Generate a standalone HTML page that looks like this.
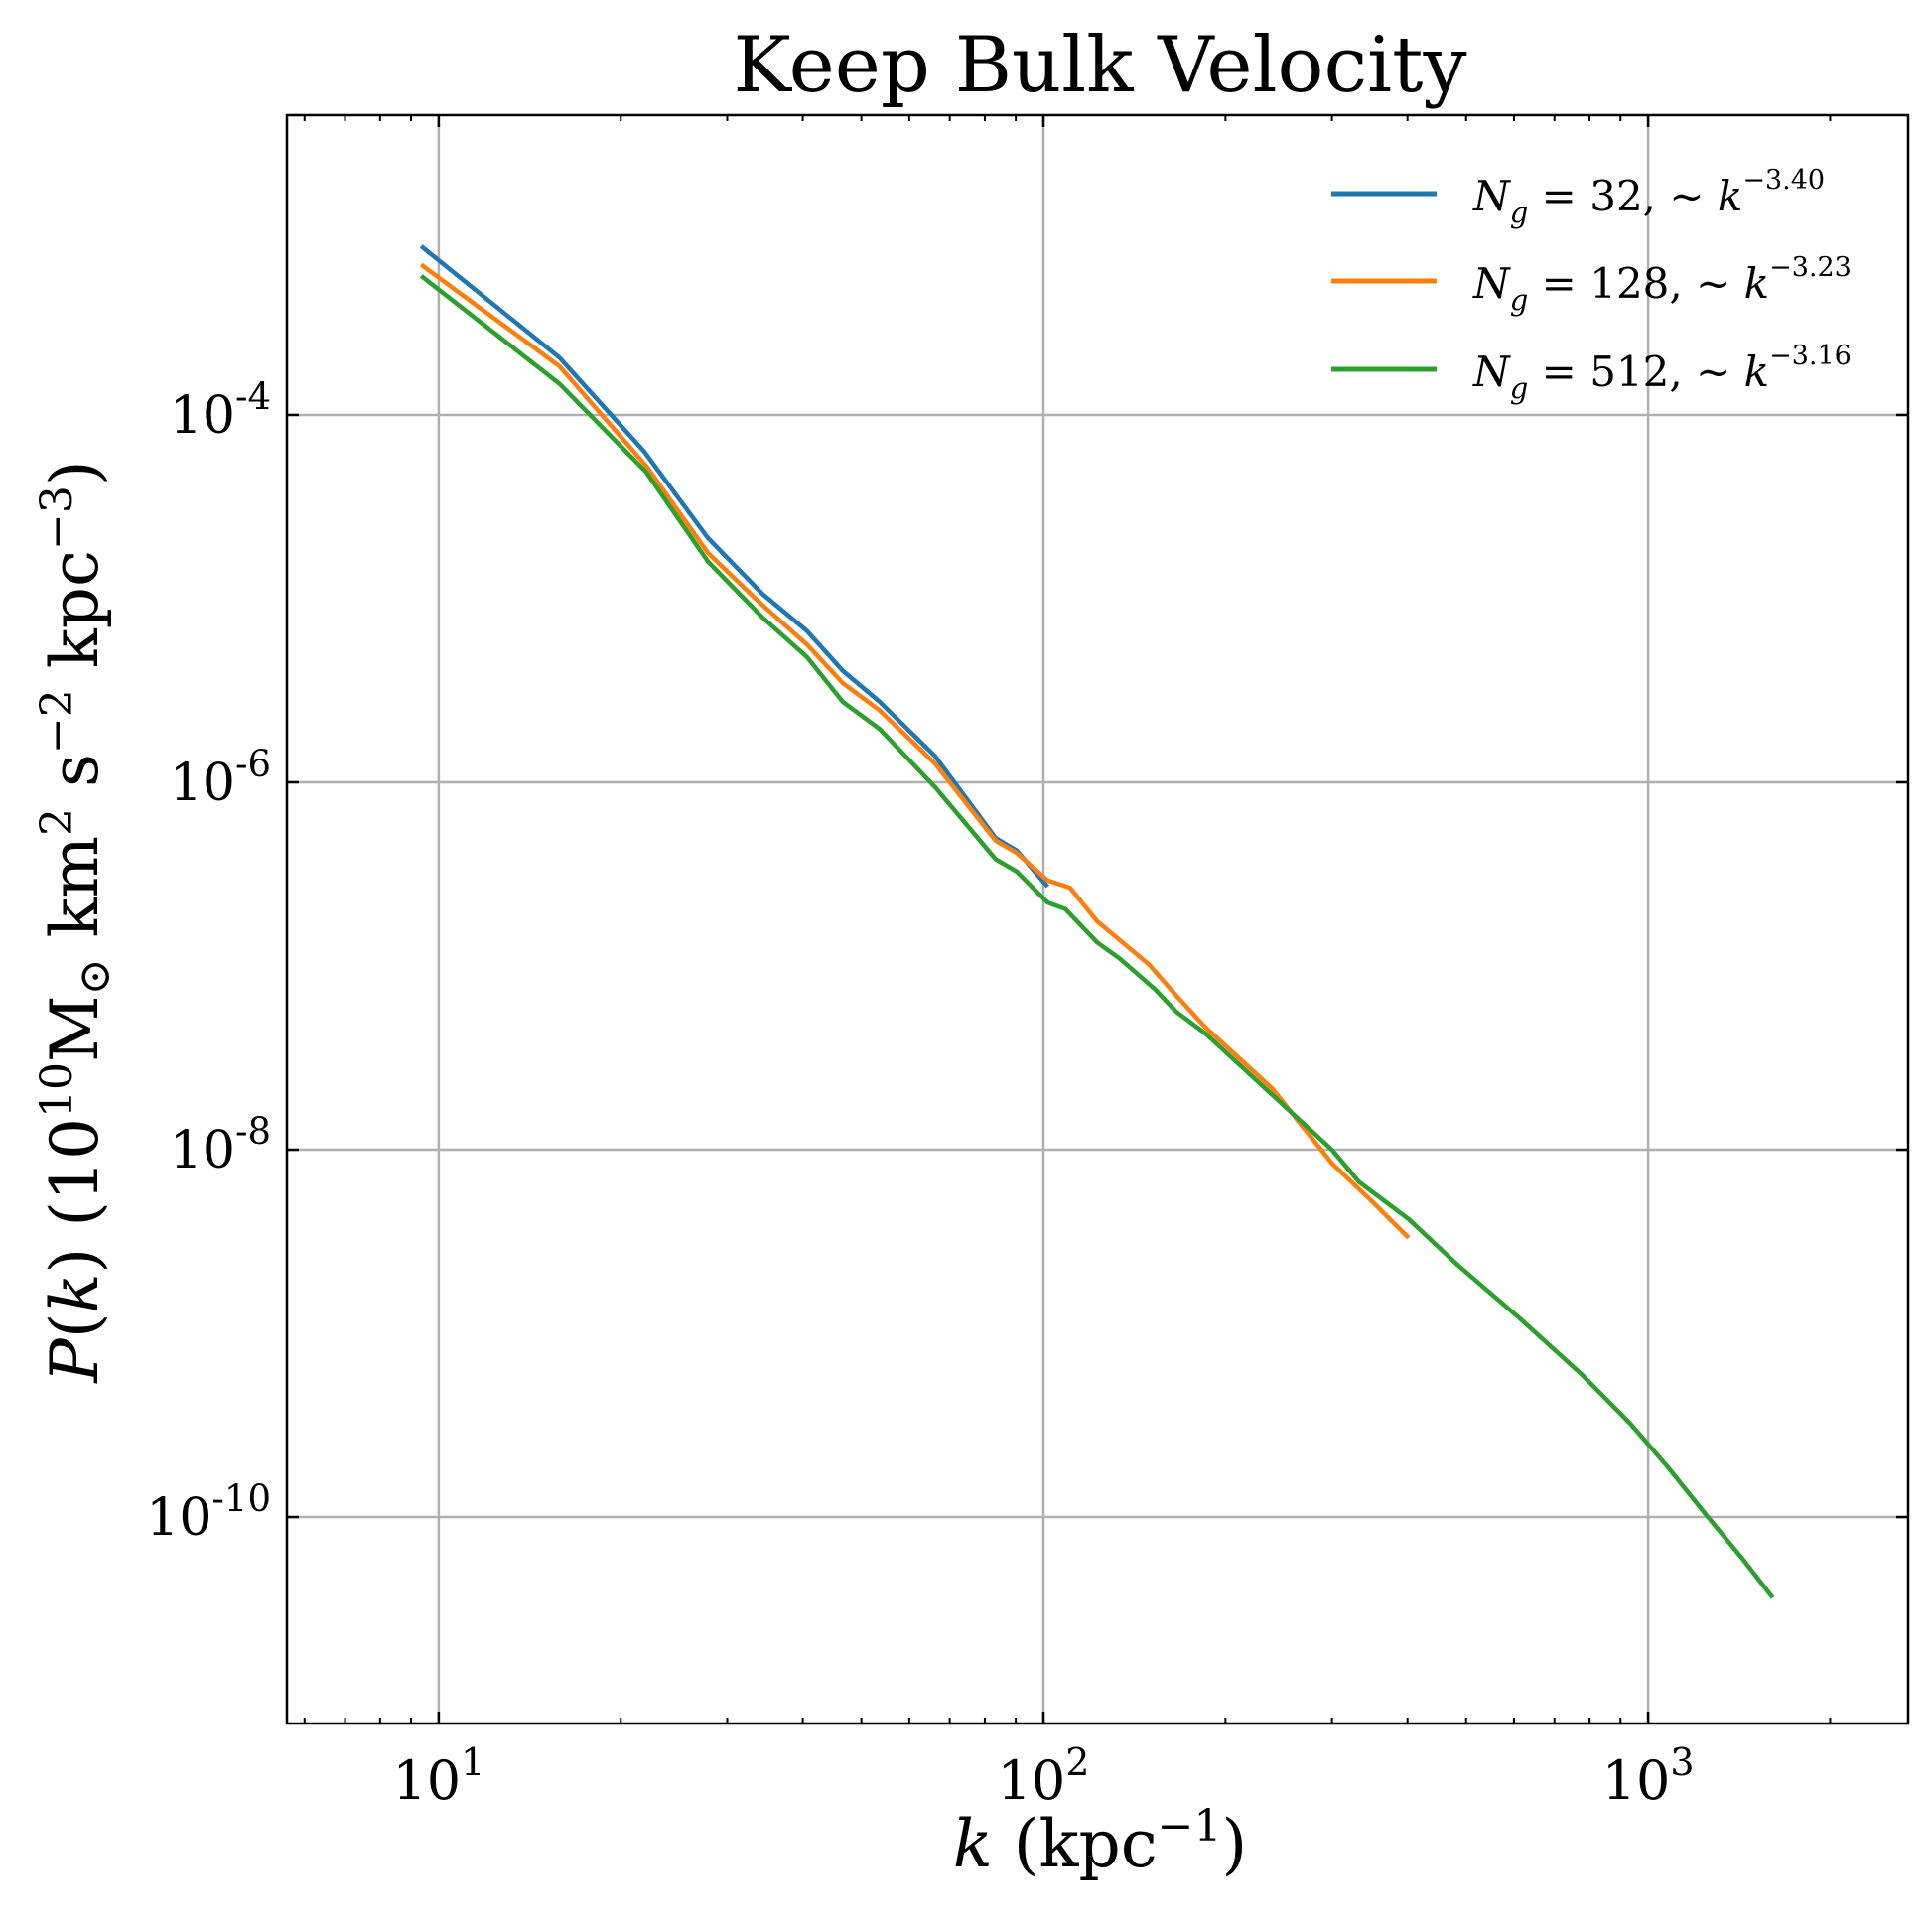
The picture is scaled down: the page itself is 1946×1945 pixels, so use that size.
<!DOCTYPE html>
<html><head><meta charset="utf-8"><style>
body{margin:0;background:#fff}
svg text{font-family:"DejaVu Serif","Liberation Serif",serif;fill:#000}
</style></head><body>
<svg id="chart" width="1946" height="1940" viewBox="0 0 1946 1940" xmlns="http://www.w3.org/2000/svg">
<text x="1108" y="92" font-size="78" text-anchor="middle">Keep Bulk Velocity</text>
<g id="grid"></g>
<g id="series"></g>
<g id="ticks"></g>
<rect x="289" y="116" width="1633" height="1620" fill="none" stroke="#000" stroke-width="2.5"/>
<g font-style="italic">
  <line x1="1341" y1="195" x2="1447" y2="195" stroke="#1f77b4" stroke-width="5"/>
  <text x="1484" y="212" font-size="42">N<tspan font-size="29" dy="12">g</tspan><tspan dy="-12" font-style="normal"> = 32, ∼ </tspan>k<tspan font-size="27" dy="-22" font-style="normal">−3.40</tspan></text>
  <line x1="1341" y1="283" x2="1447" y2="283" stroke="#ff7f0e" stroke-width="5"/>
  <text x="1484" y="300" font-size="42">N<tspan font-size="29" dy="12">g</tspan><tspan dy="-12" font-style="normal"> = 128, ∼ </tspan>k<tspan font-size="27" dy="-22" font-style="normal">−3.23</tspan></text>
  <line x1="1341" y1="372" x2="1447" y2="372" stroke="#2ca02c" stroke-width="5"/>
  <text x="1484" y="389" font-size="42">N<tspan font-size="29" dy="12">g</tspan><tspan dy="-12" font-style="normal"> = 512, ∼ </tspan>k<tspan font-size="27" dy="-22" font-style="normal">−3.16</tspan></text>
</g>
<text x="1108" y="1880" font-size="66" text-anchor="middle"><tspan font-style="italic">k</tspan> (kpc<tspan font-size="44" dy="-26">−1</tspan><tspan dy="26">)</tspan></text>
<text transform="translate(98,928) rotate(-90)" font-size="66" text-anchor="middle"><tspan font-style="italic">P</tspan>(<tspan font-style="italic">k</tspan>) (10<tspan font-size="44" dy="-26">10</tspan><tspan dy="26">M</tspan><tspan font-size="44" dy="12">⊙</tspan><tspan dy="-12"> km</tspan><tspan font-size="44" dy="-26">2</tspan><tspan dy="26"> s</tspan><tspan font-size="44" dy="-26">−2</tspan><tspan dy="26"> kpc</tspan><tspan font-size="44" dy="-26">−3</tspan><tspan dy="26">)</tspan></text>
</svg>
<script>
const logK32=[0.971,1.200,1.339,1.445,1.535,1.609,1.668,1.729,1.821,1.921,1.956,2.007];
const logP32=[-3.081,-3.689,-4.196,-4.669,-4.973,-5.176,-5.392,-5.561,-5.858,-6.304,-6.372,-6.568];
const logK128=[0.971,1.200,1.343,1.445,1.535,1.609,1.668,1.729,1.821,1.921,1.956,2.007,2.032,2.044,2.089,2.175,2.220,2.267,2.379,2.477,2.542,2.604];
const logP128=[-3.182,-3.736,-4.277,-4.750,-5.034,-5.250,-5.459,-5.608,-5.899,-6.318,-6.385,-6.534,-6.561,-6.574,-6.757,-6.993,-7.162,-7.331,-7.669,-8.074,-8.277,-8.480];
const logK512=[0.971,1.200,1.343,1.445,1.535,1.609,1.668,1.729,1.821,1.921,1.956,2.007,2.036,2.089,2.126,2.185,2.220,2.267,2.379,2.477,2.522,2.604,2.685,2.788,2.890,2.971,3.033,3.094,3.155,3.206];
const logP512=[-3.243,-3.831,-4.311,-4.797,-5.101,-5.318,-5.561,-5.709,-6.027,-6.419,-6.486,-6.655,-6.689,-6.872,-6.959,-7.128,-7.250,-7.365,-7.703,-8.000,-8.176,-8.378,-8.628,-8.919,-9.223,-9.493,-9.730,-9.980,-10.223,-10.439];
const xTickExps=[1,2,3];
const yTickExps=[-4,-6,-8,-10];

const L=289,R=1922,T=116,B=1736;
const xMin=0.749,xMax=3.430,yMin=-11.124,yMax=-2.368;
const X=v=>L+(v-xMin)/(xMax-xMin)*(R-L);
const Y=v=>B-(v-yMin)/(yMax-yMin)*(B-T);
const NS="http://www.w3.org/2000/svg";
const mk=(t,a,p)=>{const e=document.createElementNS(NS,t);for(const k in a)e.setAttribute(k,a[k]);p.appendChild(e);return e;};
const grid=document.getElementById('grid'),ticks=document.getElementById('ticks'),ser=document.getElementById('series');

xTickExps.forEach(ex=>{
  const x=X(ex);
  const g=mk('line',{x1:x,y1:T,x2:x,y2:B,stroke:'#b0b0b0','stroke-width':2.5},grid);
  
  
  mk('line',{x1:x,y1:B,x2:x,y2:B-12,stroke:'#000','stroke-width':2.5},ticks);
  mk('line',{x1:x,y1:T,x2:x,y2:T+12,stroke:'#000','stroke-width':2.5},ticks);
  const t=mk('text',{x:x,y:1812,'font-size':54,'text-anchor':'middle'},ticks);
  
  
  t.innerHTML='10<tspan font-size="38" dy="-24">'+ex+'</tspan>';
});
for(let d=0;d<=3;d++)for(let m=2;m<=9;m++){
  const v=d+Math.log10(m);
  if(v<xMin||v>xMax)continue;
  const x=X(v);
  mk('line',{x1:x,y1:B,x2:x,y2:B-6,stroke:'#000','stroke-width':2},ticks);
  mk('line',{x1:x,y1:T,x2:x,y2:T+6,stroke:'#000','stroke-width':2},ticks);
}
yTickExps.forEach(ex=>{
  const y=Y(ex);
  const g=mk('line',{x1:L,y1:y,x2:R,y2:y,stroke:'#b0b0b0','stroke-width':2.5},grid);
  
  
  mk('line',{x1:L,y1:y,x2:L+12,y2:y,stroke:'#000','stroke-width':2.5},ticks);
  mk('line',{x1:R,y1:y,x2:R-12,y2:y,stroke:'#000','stroke-width':2.5},ticks);
  const t=mk('text',{x:L-16,y:y+18,'font-size':52,'text-anchor':'end'},ticks);
  
  
  t.innerHTML='10<tspan font-size="37" dy="-24">'+ex+'</tspan>';
});
[[logK32,logP32,'#1f77b4','line-ng32'],[logK128,logP128,'#ff7f0e','line-ng128'],[logK512,logP512,'#2ca02c','line-ng512']].forEach(([xs,ys,c,n])=>{
  const p=mk('polyline',{points:xs.map((v,i)=>X(v)+','+Y(ys[i])).join(' '),fill:'none',stroke:c,'stroke-width':4.5,'stroke-linejoin':'round'},ser);
  
  
});
</script>
</body></html>
